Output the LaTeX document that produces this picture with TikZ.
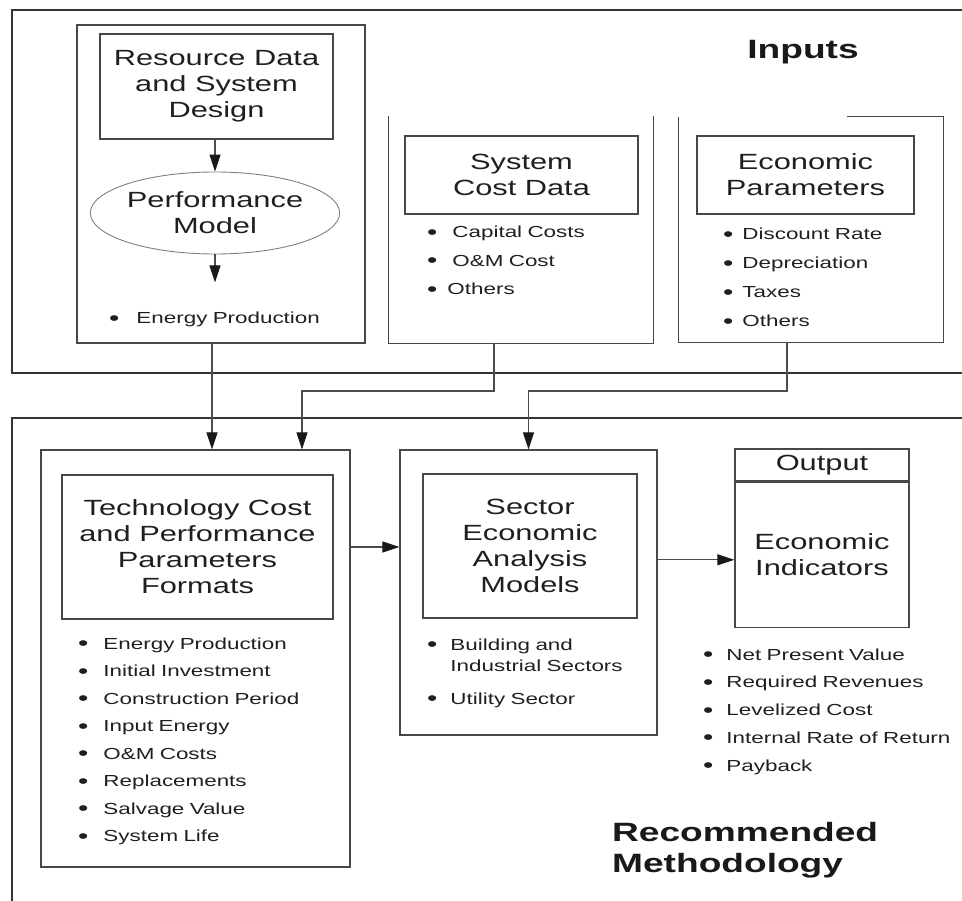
\documentclass[tikz,border=0pt]{standalone}
\usepackage{fontspec}
\setmainfont{Liberation Sans}[FakeStretch=1.4]
\usetikzlibrary{shapes.geometric,arrows.meta,positioning}
\newcommand{\bul}[2][13pt]{{\fontsize{21}{21}\selectfont\raisebox{-1.5pt}{\textbullet}}\hspace{#1}#2}

\begin{document}
\begin{tikzpicture}[x=1pt, y=-1pt, node distance=27.5pt,
  frame/.style={draw=black!80, line width=1.8pt},
  box/.style={draw=black!72, line width=1.3pt, inner sep=0pt},
  title/.style={align=center, font=\fontsize{22}{26}\selectfont, text=black!88},
  listitem/.style={text width=250pt, align=left, inner sep=0pt, text height=12pt, text depth=4pt, font=\fontsize{16}{21}\selectfont, text=black!88},
  heading/.style={font=\fontsize{26.5}{31}\selectfont\bfseries, text=black!90, align=left, inner sep=0pt},
  conn/.style={draw=black!70, line width=1.1pt, -{Triangle[length=17pt,width=11pt,color=black!90]}}]

\useasboundingbox (0,0) rectangle (962,901);

% frames round the two halves
\draw[frame] (962,10) -- (12,10) -- (12,373) -- (962,373);
\draw[frame] (962,418) -- (12,418) -- (12,901);

\node[heading] (inTitle) at (803,52) {Inputs};
\node[heading, anchor=north west] (methTitle) at (612,822) {Recommended\\Methodology};

% resource column
\node[box, minimum width=288pt, minimum height=318pt] (resCol) at (221,184) {};
\node[box, title, minimum width=233pt, minimum height=105pt] (resData) at (216.5,86.5) {Resource Data\\and System\\Design};
\node[ellipse, draw=black!50, line width=0.9pt, title, minimum width=234pt, minimum height=82pt, inner sep=0pt] (perf) at (215,213) {Performance\\Model};
\coordinate (perfOut) at ([yshift=-28pt]perf.south);
\node[listitem, anchor=west] (resItem) at (109,320) {\bul[17pt]{Energy Production}};

\draw[conn] (perf.north |- resData.south) -- (perf.north);
\draw[conn] (perf.south) -- (perfOut);

% system cost column
\node[minimum width=264pt, minimum height=227pt, inner sep=0pt] (costCol) at (521,229.5) {};
\draw[box] (costCol.north west) -- (costCol.south west) -- (costCol.south east) -- (costCol.north east);
\node[box, title, minimum width=233pt, minimum height=78pt] (costData) at (521.5,175) {System\\Cost Data};
\node[listitem, anchor=west] (cost1) at (427,234) {\bul[15pt]{Capital Costs}};
\node[listitem, node distance=28.5pt] (cost2) [below of=cost1] {\bul[15pt]{O\&M Cost}};
\node[listitem, node distance=28.5pt] (cost3) [below of=cost2] {\bul[10pt]{Others}};

% economic parameters column
\node[minimum width=264pt, minimum height=225pt, inner sep=0pt] (econCol) at (811,229.5) {};
\draw[box] ([xshift=-96pt]econCol.north east) -- (econCol.north east) -- (econCol.south east) -- (econCol.south west) -- (econCol.north west);
\node[box, title, minimum width=217pt, minimum height=78pt] (econData) at (805.5,175) {Economic\\Parameters};
\node[listitem, anchor=west] (econ1) at (723,236) {\bul[9pt]{Discount Rate}};
\node[listitem, node distance=29pt] (econ2) [below of=econ1] {\bul[9pt]{Depreciation}};
\node[listitem, node distance=29pt] (econ3) [below of=econ2] {\bul[9pt]{Taxes}};
\node[listitem, node distance=29pt] (econ4) [below of=econ3] {\bul[9pt]{Others}};

% technology column
\node[box, minimum width=309pt, minimum height=417pt] (techCol) at (195.5,658.5) {};
\node[box, title, minimum width=271pt, minimum height=144pt] (techTitle) at (197.5,547) {Technology Cost\\and Performance\\Parameters\\Formats};
\node[listitem, anchor=west] (tech1) at (78,645) {\bul[15pt]{Energy Production}};
\node[listitem] (tech2) [below of=tech1] {\bul[15pt]{Initial Investment}};
\node[listitem] (tech3) [below of=tech2] {\bul[15pt]{Construction Period}};
\node[listitem] (tech4) [below of=tech3] {\bul[15pt]{Input Energy}};
\node[listitem] (tech5) [below of=tech4] {\bul[15pt]{O\&M Costs}};
\node[listitem] (tech6) [below of=tech5] {\bul[15pt]{Replacements}};
\node[listitem] (tech7) [below of=tech6] {\bul[15pt]{Salvage Value}};
\node[listitem] (tech8) [below of=tech7] {\bul[15pt]{System Life}};

% sector column
\node[box, minimum width=257pt, minimum height=285pt] (sectCol) at (528.5,592.5) {};
\node[box, title, minimum width=214pt, minimum height=144pt] (sectTitle) at (530,546) {Sector\\Economic\\Analysis\\Models};
\node[listitem, anchor=west] (sect1) at (427,646) {\bul{Building and}\\\phantom{\fontsize{21}{21}\selectfont\textbullet}\hspace{13pt}Industrial Sectors};
\node[listitem, node distance=54pt] (sect2) [below of=sect1] {\bul{Utility Sector}};

% output
\node[box, title, minimum width=174pt, minimum height=32pt] (outHead) at (822,465) {Output};
\node[box, title, minimum width=174pt, minimum height=145pt, below=0pt of outHead] (outBody) {Economic\\Indicators};
\node[listitem, anchor=west] (out1) at (703,656) {\bul{Net Present Value}};
\node[listitem, node distance=27.75pt] (out2) [below of=out1] {\bul{Required Revenues}};
\node[listitem, node distance=27.75pt] (out3) [below of=out2] {\bul{Levelized Cost}};
\node[listitem, node distance=27.75pt] (out4) [below of=out3] {\bul{Internal Rate of Return}};
\node[listitem, node distance=27.75pt] (out5) [below of=out4] {\bul{Payback}};

% inputs feeding the methodology
\coordinate (bendRow) at (0,391);
\coordinate (resOut) at ([xshift=-9pt]resCol.south);
\coordinate (techInA) at ([xshift=16.5pt]techCol.north);
\coordinate (techInB) at ([xshift=106.5pt]techCol.north);
\coordinate (costOut) at ([xshift=-27pt]costCol.south);
\coordinate (econOut) at ([xshift=-24pt]econCol.south);
\coordinate (outIn) at ([yshift=-5pt]outBody.west);

\draw[conn] (resOut) -- (techInA);
\draw[conn] (costOut) |- (techInB |- bendRow) -- (techInB);
\draw[conn] (econOut) |- (sectCol.north |- bendRow) -- (sectCol.north);

% methodology flow
\draw[conn] (techTitle.east -| techCol.east) -- (techTitle.east -| sectCol.west);
\draw[conn] (outIn -| sectCol.east) -- (outIn);

\end{tikzpicture}
\end{document}
